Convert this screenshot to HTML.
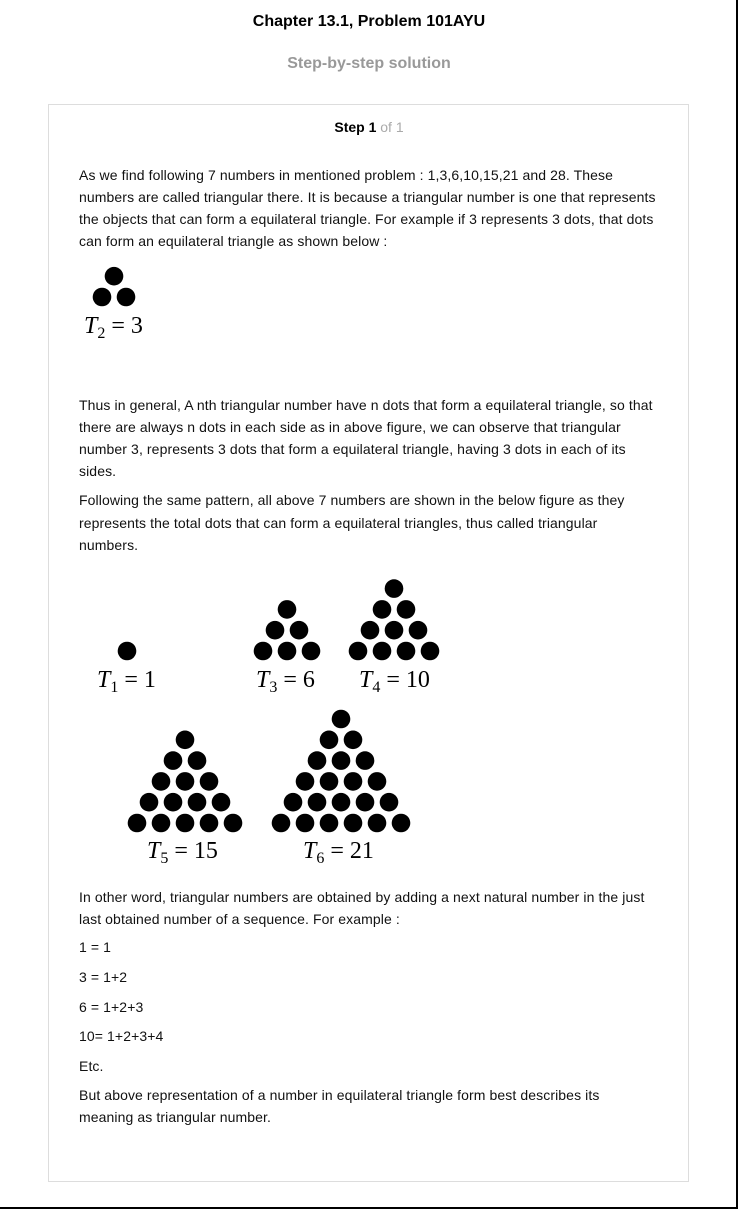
<!DOCTYPE html>
<html><head><meta charset="utf-8">
<style>
body{margin:0;width:738px;height:1209px;position:relative;background:#fff;font-family:"Liberation Sans",Arial,sans-serif;overflow:hidden}
.t{position:absolute;left:79px;font-size:14px;line-height:16px;color:#111;white-space:nowrap;letter-spacing:0.1px}
.c{position:absolute;left:0;width:738px;text-align:center;font-weight:bold;font-size:16px;line-height:18px}
#frame-r{position:absolute;left:736px;top:0;width:2px;height:1209px;background:#000}
#frame-b{position:absolute;left:0;top:1207px;width:738px;height:2px;background:#000}
#card{position:absolute;left:48px;top:104px;width:639px;height:1076px;border:1px solid #ddd}
svg{position:absolute;left:0;top:0}
.m{font-family:"Liberation Serif",serif;font-size:24px}
</style></head><body>
<div id="frame-r"></div>
<div id="frame-b"></div>
<div class="c" style="top:13px;color:#000">Chapter 13.1, Problem 101AYU</div>
<div class="c" style="top:55px;color:#999">Step-by-step solution</div>
<div id="card"></div>
<div class="c" style="top:118px;font-size:14px;color:#000">Step 1 <span style="font-weight:normal;color:#aaa">of 1</span></div>

<div class="t" style="top:167px">As we find following 7 numbers in mentioned problem : 1,3,6,10,15,21 and 28. These</div>
<div class="t" style="top:189px">numbers are called triangular there. It is because a triangular number is one that represents</div>
<div class="t" style="top:211px">the objects that can form a equilateral triangle. For example if 3 represents 3 dots, that dots</div>
<div class="t" style="top:233px">can form an equilateral triangle as shown below :</div>

<div class="t" style="top:397px">Thus in general, A nth triangular number have n dots that form a equilateral triangle, so that</div>
<div class="t" style="top:419px">there are always n dots in each side as in above figure, we can observe that triangular</div>
<div class="t" style="top:441px">number 3, represents 3 dots that form a equilateral triangle, having 3 dots in each of its</div>
<div class="t" style="top:463px">sides.</div>
<div class="t" style="top:492px">Following the same pattern, all above 7 numbers are shown in the below figure as they</div>
<div class="t" style="top:515px">represents the total dots that can form a equilateral triangles, thus called triangular</div>
<div class="t" style="top:537px">numbers.</div>

<div class="t" style="top:889px">In other word, triangular numbers are obtained by adding a next natural number in the just</div>
<div class="t" style="top:911px">last obtained number of a sequence. For example :</div>
<div class="t" style="top:939px">1 = 1</div>
<div class="t" style="top:969px">3 = 1+2</div>
<div class="t" style="top:999px">6 = 1+2+3</div>
<div class="t" style="top:1028px">10= 1+2+3+4</div>
<div class="t" style="top:1058px">Etc.</div>
<div class="t" style="top:1087px">But above representation of a number in equilateral triangle form best describes its</div>
<div class="t" style="top:1109px">meaning as triangular number.</div>

<svg id="fig" width="738" height="1209"></svg>
<script>
const sizes=[2,1,3,4,5,6];
const values=[3,1,6,10,15,21];
const apexX=[114,127,287,394,185,341];
const baseY=[297,651,651,651,823,823];
const labelX=[84,97,256,359,147,303];
const labelY=[333,687,687,687,858,858];
const svg=document.getElementById('fig');
const NS='http://www.w3.org/2000/svg';
const dx=24,dy=20.8,r=9.3;
sizes.forEach((n,k)=>{
  for(let row=0;row<n;row++){
    for(let i=0;i<=row;i++){
      const c=document.createElementNS(NS,'circle');
      c.setAttribute('cx',apexX[k]-row*dx/2+i*dx);
      c.setAttribute('cy',baseY[k]-(n-1-row)*dy);
      c.setAttribute('r',r);
      c.setAttribute('fill','#000');
      
      
      svg.appendChild(c);
    }
  }
  const t=document.createElementNS(NS,'text');
  t.setAttribute('x',labelX[k]);t.setAttribute('y',labelY[k]);
  t.setAttribute('class','m');
  
  
  const sp=n>=5?' ':'';
  t.innerHTML='<tspan font-style="italic">T</tspan><tspan font-size="16" dy="5">'+n+'</tspan><tspan dy="-5">'+sp+' = '+sp+values[k]+'</tspan>';
  svg.appendChild(t);
});
</script>
</body></html>
